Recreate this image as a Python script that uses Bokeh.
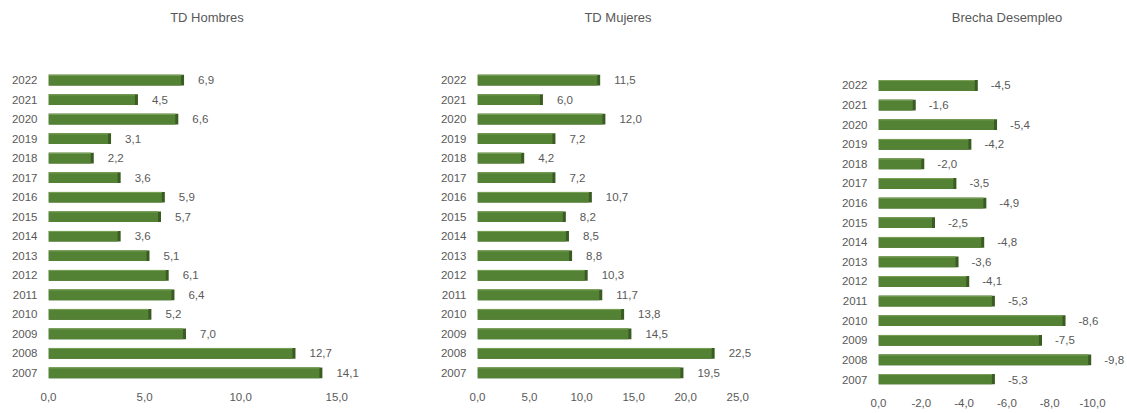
from bokeh.plotting import figure
from bokeh.layouts import row
from bokeh.models import Range1d, FixedTicker, CustomJSTickFormatter, ColumnDataSource
from bokeh.core.properties import value
from bokeh.embed import file_html
from bokeh.resources import INLINE

years = [2022, 2021, 2020, 2019, 2018, 2017, 2016, 2015, 2014, 2013, 2012, 2011, 2010, 2009, 2008, 2007]
td_hombres = [6.9, 4.5, 6.6, 3.1, 2.2, 3.6, 5.9, 5.7, 3.6, 5.1, 6.1, 6.4, 5.2, 7.0, 12.7, 14.1]
td_mujeres = [11.5, 6.0, 12.0, 7.2, 4.2, 7.2, 10.7, 8.2, 8.5, 8.8, 10.3, 11.7, 13.8, 14.5, 22.5, 19.5]
brecha = [-4.5, -1.6, -5.4, -4.2, -2.0, -3.5, -4.9, -2.5, -4.8, -3.6, -4.1, -5.3, -8.6, -7.5, -9.8, -5.3]

titles = ["TD Hombres", "TD Mujeres", "Brecha Desempleo"]
x_ticks_1 = [0, 5, 10, 15]
x_ticks_2 = [0, 5, 10, 15, 20, 25]
x_ticks_3 = [0, -2, -4, -6, -8, -10]

FONT = "Liberation Sans"
TXT = "#595959"
GREEN = "#548235"
DARK = "#3A5C22"
LIGHT = "#7DA35A"
H = 413


def panel(title, vals, ticks, xr, frame_w, b_left, b_right, pad_bottom, pad_top, x_standoff,
          lbl_offset=17, edge_px=3):
    p = figure(width=b_left + frame_w + b_right, height=H,
               x_range=Range1d(*xr),
               y_range=Range1d(min(years) - pad_bottom, max(years) + pad_top),
               output_backend="svg", toolbar_location=None, title=title + "\n \n ",
               min_border_left=b_left, min_border_right=b_right,
               min_border_top=68, min_border_bottom=29)
    p.outline_line_color = None
    p.grid.visible = False
    p.background_fill_color = "white"
    p.border_fill_color = "white"
    p.title.align = "center"
    p.title.text_font = FONT
    p.title.text_font_size = "13px"
    p.title.text_font_style = "normal"
    p.title.text_color = TXT
    p.title.standoff = 0
    p.title.text_line_height = 1.44

    upp = (xr[1] - xr[0]) / frame_w  # data units per pixel
    depth = [v + upp * edge_px for v in vals]
    src = ColumnDataSource(dict(
        y=years, v=vals, d=depth,
        top=[y + 0.25 for y in years],
        lbl=[f"{v:.1f}".replace(".", ",") for v in vals]))
    p.hbar(y="y", left=0, right="d", height=0.55, source=src, fill_color=DARK, line_color=None)
    p.hbar(y="y", left=0, right="v", height=0.55, source=src, fill_color=GREEN, line_color=None)
    p.segment(x0=0, x1="v", y0="top", y1="top", source=src, line_color=LIGHT, line_width=1)
    p.text(x="v", y="y", text="lbl", source=src, x_offset=lbl_offset, text_align="left",
           text_baseline="middle", text_font=value(FONT), text_font_size="11.5px", text_color=TXT)

    p.yaxis.ticker = FixedTicker(ticks=years)
    p.xaxis.ticker = FixedTicker(ticks=ticks)
    p.xaxis.formatter = CustomJSTickFormatter(code="return tick.toFixed(1).replace('.', ',').replace('-0,0','0,0');")
    for ax in (p.xaxis[0], p.yaxis[0]):
        ax.axis_line_color = None
        ax.major_tick_line_color = None
        ax.minor_tick_line_color = None
        ax.major_tick_out = 0
        ax.minor_tick_out = 0
        ax.major_tick_in = 0
        ax.minor_tick_in = 0
        ax.major_label_text_font = FONT
        ax.major_label_text_font_size = "11.5px"
        ax.major_label_text_color = TXT
    p.yaxis.major_label_standoff = 11
    p.xaxis.major_label_standoff = x_standoff
    return p


p1 = panel(titles[0], td_hombres, x_ticks_1, (0, 16.5), 317, 48, 35, 0.6, 0.6, 8)
p2 = panel(titles[1], td_mujeres, x_ticks_2, (0, 27), 281, 77, 42, 0.6, 0.6, 8)
p3 = panel(titles[2], brecha, x_ticks_3, (0, -12.01), 257, 78, 0, 0.255, 0.867, 14, lbl_offset=16)

layout = row(p1, p2, p3)
open("out.html", "w").write(file_html(layout, INLINE))
